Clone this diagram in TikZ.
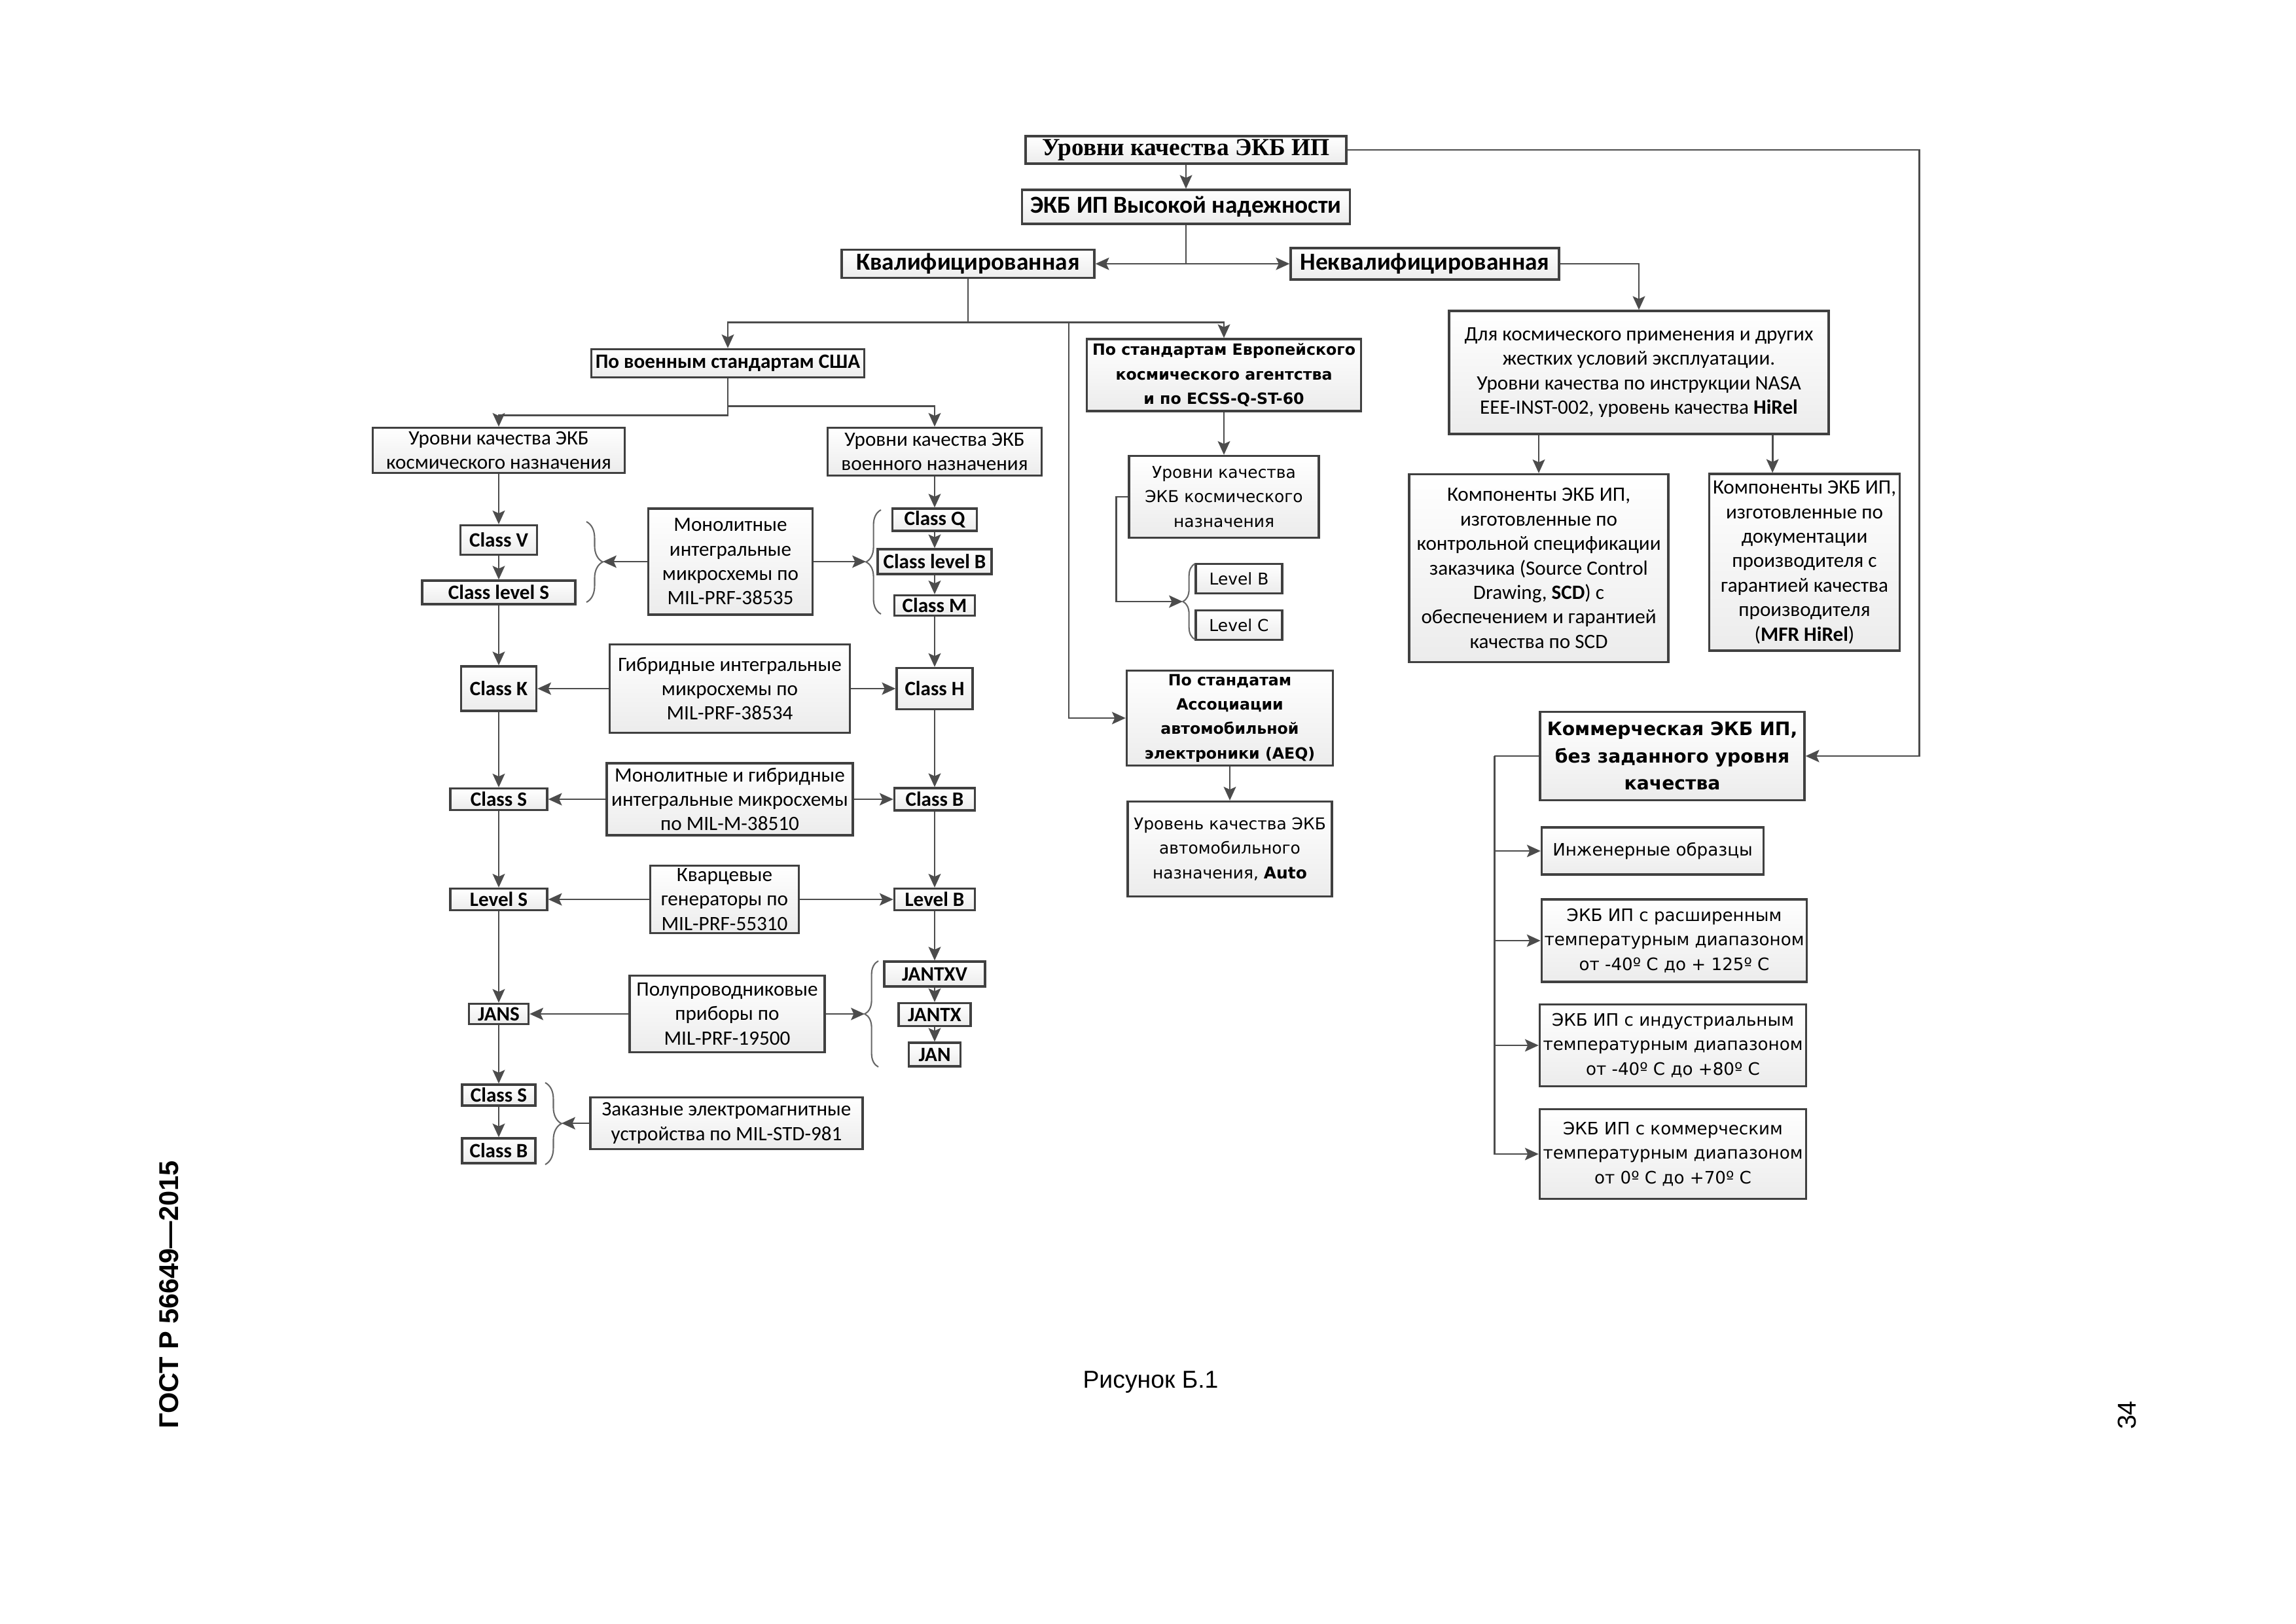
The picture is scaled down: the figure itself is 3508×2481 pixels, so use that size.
\documentclass[tikz,border=0pt]{standalone}
\usepackage{fontspec}
\setmainfont{Carlito}
\newfontfamily\verd{DejaVu Sans}
\newfontfamily\tms{Liberation Serif}
\newfontfamily\arl{Liberation Sans}
\usetikzlibrary{arrows.meta,positioning,calc,decorations.pathreplacing}

\tikzset{
  box/.style={draw=black!75, line width=0.8pt, top color=white, bottom color=gray!15, align=center, inner sep=1pt},
  sz/.style 2 args={minimum width=#1*0.08466mm, minimum height=#2*0.08466mm},
  cal/.style={box, font=\fontsize{7.5}{9}\selectfont},
  calb/.style={box, font=\fontsize{7.5}{9}\selectfont\bfseries},
  big/.style={box, font=\fontsize{9}{10}\selectfont\bfseries},
  tim/.style={box, font=\tms\fontsize{9}{10}\selectfont\bfseries},
  ver/.style={box, font=\verd\fontsize{6}{9}\selectfont},
  verb/.style={box, font=\verd\fontsize{5.7}{9}\selectfont\bfseries},
  verl/.style={box, font=\verd\fontsize{6.3}{9}\selectfont},
  verc/.style={box, font=\verd\fontsize{6.8}{10}\selectfont\bfseries},
  ln/.style={draw=black!70, line width=0.7pt},
  arr/.style={ln, -{Stealth[length=5pt,width=4.5pt,inset=1pt]}},
  brc/.style={draw=black!60, line width=0.5pt, decorate, decoration={brace, amplitude=#1}},
}

\begin{document}
\begin{tikzpicture}[x=0.08466mm, y=-0.08466mm]

\fill[white] (0,0) rectangle (3508,2481);

% top levels
\node[tim, sz={490}{42}] (top) at (1812,229) {Уровни качества ЭКБ ИП};
\node[big, sz={501}{52}] (high) at (1812,316) {ЭКБ ИП Высокой надежности};
\node[big, sz={386}{43}] (qual) at (1479,403) {Квалифицированная};
\node[big, sz={410}{48}] (nonq) at (2177,403) {Неквалифицированная};

% US military standards
\node[calb, sz={417}{43}] (usa) at (1112,555) {По военным стандартам США};
\node[cal, sz={385}{69}] (kosm) at (762,688) {Уровни качества ЭКБ\\космического назначения};
\node[cal, sz={327}{73}] (voen) at (1428,690) {Уровни качества ЭКБ\\военного назначения};

\node[calb, sz={117}{45}] (clV) at (762,825) {Class V};
\node[calb, sz={234}{36}] (clLS) at (762,905) {Class level S};
\node[calb, sz={115}{68}] (clK) at (762,1052) {Class K};
\node[calb, sz={148}{33}] (clS) at (762,1221) {Class S};
\node[calb, sz={148}{33}] (lvS) at (762,1374) {Level S};
\node[calb, sz={91}{31}] (jans) at (762,1549) {JANS};
\node[calb, sz={112}{32}] (clS2) at (762,1673) {Class S};
\node[calb, sz={112}{38}] (clB2) at (762,1758) {Class B};

\node[calb, sz={129}{33}] (clQ) at (1428,794) {Class Q};
\node[calb, sz={174}{38}] (clLB) at (1428,858) {Class level B};
\node[calb, sz={123}{31}] (clM) at (1428,925) {Class M};
\node[calb, sz={116}{63}] (clH) at (1428,1052) {Class H};
\node[calb, sz={123}{34}] (clB) at (1428,1221) {Class B};
\node[calb, sz={123}{33}] (lvB) at (1428,1374) {Level B};
\node[calb, sz={154}{38}] (jtxv) at (1428,1488) {JANTXV};
\node[calb, sz={110}{35}] (jtx) at (1428,1550) {JANTX};
\node[calb, sz={79}{36}] (jan) at (1428,1611) {JAN};

\node[cal, sz={251}{162}] (mono) at (1116,858) {Монолитные\\интегральные\\микросхемы по\\MIL-PRF-38535};
\node[cal, sz={367}{135}] (hybr) at (1115,1052) {Гибридные интегральные\\микросхемы по\\MIL-PRF-38534};
\node[cal, sz={376}{110}] (mhyb) at (1115,1221) {Монолитные и гибридные\\интегральные микросхемы\\по MIL-M-38510};
\node[cal, sz={227}{103}] (quar) at (1107,1374) {Кварцевые\\генераторы по\\MIL-PRF-55310};
\node[cal, sz={298}{117}] (semi) at (1111,1549) {Полупроводниковые\\приборы по\\MIL-PRF-19500};
\node[cal, sz={416}{79}] (emag) at (1110,1716) {Заказные электромагнитные\\устройства по MIL-STD-981};

% ESA and AEQ
\node[verb, sz={419}{110}] (esa) at (1870,573) {По стандартам Европейского\\космического агентства\\и по ECSS-Q-ST-60};
\node[ver, sz={290}{125}] (esal) at (1870,759) {Уровни качества\\ЭКБ космического\\назначения};
\node[ver, sz={132}{45}] (lvlB) at (1893,884) {Level B};
\node[ver, sz={132}{45}] (lvlC) at (1893,955) {Level C};
\node[verb, sz={315}{145}] (aeq) at (1879,1097) {По стандатам\\Ассоциации\\автомобильной\\электроники (AEQ)};
\node[ver, sz={312}{145}] (aut) at (1879,1297) {Уровень качества ЭКБ\\автомобильного\\назначения, \textbf{Auto}};

% non-qualified
\node[cal, sz={580}{188}] (nasa) at (2504,569) {Для космического применения и других\\жестких условий эксплуатации.\\Уровни качества по инструкции NASA\\EEE-INST-002, уровень качества \textbf{HiRel}};
\node[cal, sz={396}{287}] (scd) at (2351,868) {Компоненты ЭКБ ИП,\\изготовленные по\\контрольной спецификации\\заказчика (Source Control\\Drawing, \textbf{SCD}) с\\обеспечением и гарантией\\качества по SCD};
\node[cal, sz={291}{270}] (mfr) at (2757,859) {Компоненты ЭКБ ИП,\\изготовленные по\\документации\\производителя с\\гарантией качества\\производителя\\(\textbf{MFR HiRel})};

% commercial
\node[verc, sz={404}{135}] (comm) at (2555,1155) {Коммерческая ЭКБ ИП,\\без заданного уровня\\качества};
\node[verl, sz={339}{72}] (eng) at (2525,1300) {Инженерные образцы};
\node[verl, sz={404}{126}] (ext) at (2558,1437) {ЭКБ ИП с расширенным\\температурным диапазоном\\от -40º С до + 125º С};
\node[verl, sz={407}{125}] (ind) at (2556,1597) {ЭКБ ИП с индустриальным\\температурным диапазоном\\от -40º С до +80º С};
\node[verl, sz={407}{137}] (com2) at (2556,1763) {ЭКБ ИП с коммерческим\\температурным диапазоном\\от 0º С до +70º С};

% connectors
\draw[arr] (top) -- (high);
\draw[arr] (high.south) |- (qual.east);
\draw[arr] (high.south) |- (nonq.west);
\draw[arr] (top.east) -- ++(874,0) |- (comm.east);
\draw[arr] (nonq.east) -| (nasa.north);
\draw[arr] (nasa.south -| scd.north) -- (scd.north);
\draw[arr] ($(nasa.south)!0.7!(nasa.south east)$) coordinate (n2) -- (n2 |- mfr.north);

\draw[ln] (qual.south) -- ++(0,66) coordinate (qb);
\draw[arr] (qb) -| (usa.north);
\draw[arr] (qb) -| (esa.north);
\draw[arr] ($(qb)+(154,0)$) |- (aeq.west);
\draw[arr] (usa.south) -- ++(0,42) -| (voen.north);
\draw[arr] (usa.south) -- ++(0,56) -| (kosm.north);

\foreach \a/\b in {kosm/clV, clV/clLS, clLS/clK, clK/clS, clS/lvS, lvS/jans, jans/clS2, clS2/clB2,
  voen/clQ, clQ/clLB, clLB/clM, clM/clH, clH/clB, clB/lvB, lvB/jtxv, jtxv/jtx, jtx/jan,
  esa/esal, aeq/aut, hybr/clK, hybr/clH, mhyb/clS, mhyb/clB, quar/lvS, quar/lvB, semi/jans}
  \draw[arr] (\a) -- (\b);

% braces
\draw[brc=6pt] (896,797) -- (896,920);
\coordinate (bV) at (921,858);
\draw[brc=5.5pt] (1346,938) -- (1346,779);
\coordinate (bQ) at (1323,858);
\draw[brc=5pt] (1342,1630) -- (1342,1468);
\coordinate (bJ) at (1321,1549);
\draw[brc=6pt] (833,1654) -- (833,1779);
\coordinate (bS) at (858,1716);
\draw[brc=4.5pt] (1826,977) -- (1826,861);
\coordinate (bL) at (1807,919);

\draw[arr] (mono) -- (bV);
\draw[arr] (mono) -- (bQ);
\draw[arr] (semi) -- (bJ);
\draw[arr] (emag) -- (bS);
\draw[arr] (esal.west) -- ++(-18,0) |- (bL);

\draw[ln] (comm.west) -- ++(-68,0) coordinate (cb);
\foreach \n in {eng, ext, ind, com2}
  \draw[arr] (cb) |- (\n.west);

% page texts
\node[font=\arl\fontsize{10}{12}\selectfont\bfseries, rotate=90] (gost) at (258,1978) {ГОСТ Р 56649—2015};
\node[font=\arl\fontsize{9}{11}\selectfont] (cap) at (1758,2112) {Рисунок Б.1};
\node[font=\arl\fontsize{9.5}{11}\selectfont, rotate=90] (pg) at (3250,2162) {34};

\end{tikzpicture}
\end{document}
